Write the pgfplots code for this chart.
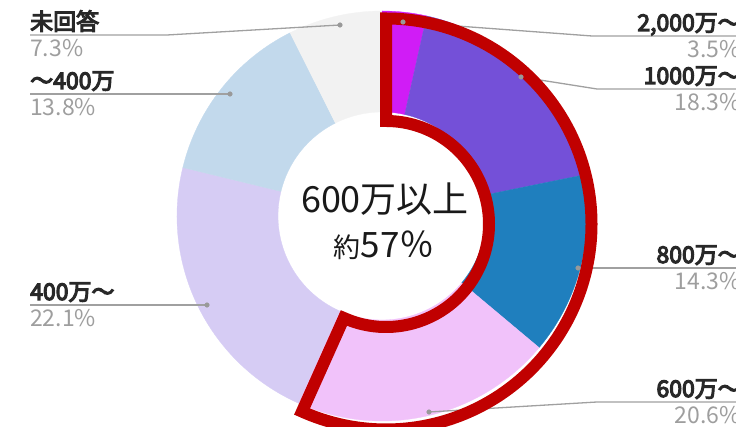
\documentclass[border=0pt]{standalone}
\usepackage{fontspec}
\setmainfont{Noto Sans CJK JP}
\newfontfamily\labfont{Noto Sans CJK JP}[FakeBold=5]
\usepackage{pgfplots}
\usepackage{pgfplotstable}
\pgfplotsset{compat=1.18}
\definecolor{c2000}{RGB}{208,28,246}
\definecolor{c1000}{RGB}{116,80,216}
\definecolor{c800}{RGB}{31,127,190}
\definecolor{c600}{RGB}{241,194,250}
\definecolor{c400}{RGB}{214,204,244}
\definecolor{cu400}{RGB}{194,217,236}
\definecolor{cna}{RGB}{242,242,242}
\definecolor{cred}{RGB}{192,0,0}
\definecolor{labc}{RGB}{40,40,40}
\definecolor{pctc}{RGB}{158,158,158}
\definecolor{leadc}{RGB}{160,160,160}

\pgfplotstableread{
share col
3.5 c2000
18.3 c1000
14.3 c800
20.6 c600
22.1 c400
13.8 cu400
7.3 cna
}\slices

\begin{document}
\begin{tikzpicture}
\useasboundingbox (0,0) rectangle (736pt,427pt);
\clip (0,0) rectangle (736pt,427pt);
\begin{axis}[at={(0,0)}, anchor=south west, scale only axis,
  width=736pt, height=427pt, xmin=0, xmax=736, ymin=0, ymax=427,
  hide axis, clip=false]
\pgfmathsetmacro\astart{90}
\pgfplotsforeachungrouped \i in {0,...,6}{%
  \pgfplotstablegetelem{\i}{share}\of\slices
  \let\sv=\pgfplotsretval
  \pgfplotstablegetelem{\i}{col}\of\slices
  \let\scol=\pgfplotsretval
  \pgfmathsetmacro\aend{\astart-3.6*\sv}
  \edef\temp{\noexpand\fill[\scol, draw=\scol, line width=0.3pt] (axis cs:382,211) ++(\astart:205pt) arc[start angle=\astart,end angle=\aend,radius=205pt] -- ++(\aend:-101pt) arc[start angle=\aend,end angle=\astart,radius=104pt] -- cycle;}%
  \temp
  \ifnum\i=3 \global\let\redend=\aend\fi
  \let\astart=\aend
}
% leader lines
\addplot[leadc, line width=1.3pt] coordinates {(30,392) (167,392) (340,402)};
\addplot[leadc, line width=1.3pt] coordinates {(30,333) (230,333)};
\addplot[leadc, line width=1.3pt] coordinates {(30,122) (207,122)};
\addplot[leadc, line width=1.3pt] coordinates {(741,391) (592,391) (403,405)};
\addplot[leadc, line width=1.3pt] coordinates {(741,338) (597,338) (521,350)};
\addplot[leadc, line width=1.3pt] coordinates {(741,159) (578,159)};
\addplot[leadc, line width=1.3pt] coordinates {(741,25) (597,25) (429,15)};
\addplot[only marks, mark=*, mark size=2.3pt, mark options={fill=gray!80, draw=gray!80}]
  coordinates {(340,402) (230,333) (207,122) (403,405) (521,350) (578,159) (429,15)};
% red outline
\edef\temp{\noexpand\draw[cred, line width=12pt, line join=miter] (axis cs:386,203) ++(90:205.5pt) arc[start angle=90,end angle=\redend,radius=205.5pt] -- ++(\redend:-102.5pt) arc[start angle=\redend,end angle=90,radius=103pt] -- cycle;}%
\temp
% labels
\tikzset{lab/.style={font=\fontsize{23}{23}\selectfont\labfont, text=labc, inner sep=0pt},
         pct/.style={font=\fontsize{23}{23}\selectfont, text=pctc, inner sep=0pt}}
\node[lab, anchor=base west] at (axis cs:30,397) {未回答};
\node[pct, anchor=north west] at (axis cs:30,388) {7.3\%};
\node[lab, anchor=base west] at (axis cs:30,338) {〜400万};
\node[pct, anchor=north west] at (axis cs:30,329) {13.8\%};
\node[lab, anchor=base west] at (axis cs:30,127) {400万〜};
\node[pct, anchor=north west] at (axis cs:30,118) {22.1\%};
\node[lab, anchor=base east] at (axis cs:741,396) {2,000万〜};
\node[pct, anchor=north east] at (axis cs:741,387) {3.5\%};
\node[lab, anchor=base east] at (axis cs:741,343) {1000万〜};
\node[pct, anchor=north east] at (axis cs:741,334) {18.3\%};
\node[lab, anchor=base east] at (axis cs:741,164) {800万〜};
\node[pct, anchor=north east] at (axis cs:741,155) {14.3\%};
\node[lab, anchor=base east] at (axis cs:741,30) {600万〜};
\node[pct, anchor=north east] at (axis cs:741,21) {20.6\%};
% centre text
\node[anchor=base, inner sep=0pt, font=\fontsize{36}{36}\selectfont, text=black!90] at (axis cs:385,214) {600万以上};
\node[anchor=base, inner sep=0pt, text=black!90] at (axis cs:384,169) {{\fontsize{27}{27}\selectfont 約}{\fontsize{35}{35}\selectfont 57％}};
\end{axis}
\end{tikzpicture}
\end{document}
